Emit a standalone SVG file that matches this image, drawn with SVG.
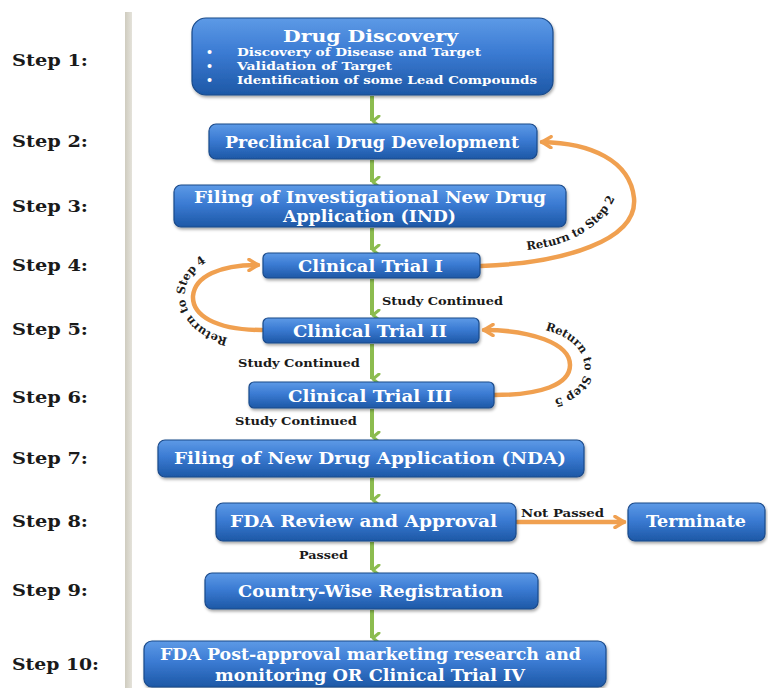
<svg xmlns="http://www.w3.org/2000/svg" width="768" height="688" viewBox="0 0 768 688">
<defs>
<linearGradient id="boxg" x1="0" y1="0" x2="0" y2="1">
<stop offset="0" stop-color="#5d9ae6"/>
<stop offset="0.45" stop-color="#3b7bd3"/>
<stop offset="1" stop-color="#1d58a6"/>
</linearGradient>
<linearGradient id="barg" x1="0" y1="0" x2="1" y2="0">
<stop offset="0" stop-color="#cfccbf"/>
<stop offset="1" stop-color="#e4e2da"/>
</linearGradient>
<filter id="sh" x="-10%" y="-20%" width="120%" height="150%">
<feDropShadow dx="1" dy="2" stdDeviation="1.5" flood-color="#000" flood-opacity="0.35"/>
</filter>
<marker id="gh" viewBox="0 0 12 10" refX="6" refY="9" markerWidth="12" markerHeight="10" markerUnits="userSpaceOnUse" orient="auto-start-reverse">
<path d="M1,2 L6,8 L11,2" fill="none" stroke="#8cbc4f" stroke-width="3" stroke-linecap="round" stroke-linejoin="round"/>
</marker>
<marker id="oh" viewBox="0 0 14 14" refX="12" refY="7" markerWidth="14" markerHeight="14" markerUnits="userSpaceOnUse" orient="auto">
<path d="M3,1.5 L12,7 L3,12.5" fill="none" stroke="#f0a050" stroke-width="3.5" stroke-linecap="round" stroke-linejoin="round"/>
</marker>
</defs>
<style>
.box{fill:url(#boxg);stroke:#1a4a8a;stroke-width:1.2;filter:url(#sh)}
.bt{font-family:"DejaVu Serif","Liberation Serif",serif;font-weight:bold;fill:#ffffff;font-size:16px}
.bs{font-family:"DejaVu Serif","Liberation Serif",serif;font-weight:bold;fill:#ffffff;font-size:11px}
.step{font-family:"DejaVu Serif","Liberation Serif",serif;font-weight:bold;fill:#1a1a1a;font-size:17px}
.lab{font-family:"DejaVu Serif","Liberation Serif",serif;font-weight:bold;fill:#1a1a1a;font-size:11px}
.pl{font-family:"DejaVu Serif","Liberation Serif",serif;font-weight:bold;fill:#1a1a1a;font-size:11.5px}
.g{stroke:#8cbc4f;stroke-width:4;fill:none}
.o{stroke:#f0a050;stroke-width:4.5;fill:none;stroke-linecap:round}
</style>
<rect x="0" y="0" width="768" height="688" fill="#ffffff"/>
<rect x="125" y="12" width="7" height="676" fill="url(#barg)"/>

<g id="steps">
<text class="step" x="12" y="66" textLength="76" lengthAdjust="spacingAndGlyphs">Step 1:</text>
<text class="step" x="12" y="147" textLength="76" lengthAdjust="spacingAndGlyphs">Step 2:</text>
<text class="step" x="12" y="212" textLength="76" lengthAdjust="spacingAndGlyphs">Step 3:</text>
<text class="step" x="12" y="271" textLength="76" lengthAdjust="spacingAndGlyphs">Step 4:</text>
<text class="step" x="12" y="335" textLength="76" lengthAdjust="spacingAndGlyphs">Step 5:</text>
<text class="step" x="12" y="403" textLength="76" lengthAdjust="spacingAndGlyphs">Step 6:</text>
<text class="step" x="12" y="464" textLength="76" lengthAdjust="spacingAndGlyphs">Step 7:</text>
<text class="step" x="12" y="527" textLength="76" lengthAdjust="spacingAndGlyphs">Step 8:</text>
<text class="step" x="12" y="596" textLength="76" lengthAdjust="spacingAndGlyphs">Step 9:</text>
<text class="step" x="12" y="670" textLength="87" lengthAdjust="spacingAndGlyphs">Step 10:</text>
</g>

<g id="connectors">
<line class="g" x1="372" y1="96" x2="372" y2="121" marker-end="url(#gh)"/>
<line class="g" x1="372" y1="160" x2="372" y2="182" marker-end="url(#gh)"/>
<line class="g" x1="372" y1="228" x2="372" y2="250" marker-end="url(#gh)"/>
<line class="g" x1="372" y1="279" x2="372" y2="315" marker-end="url(#gh)"/>
<line class="g" x1="372" y1="344" x2="372" y2="379" marker-end="url(#gh)"/>
<line class="g" x1="372" y1="409" x2="372" y2="437" marker-end="url(#gh)"/>
<line class="g" x1="372" y1="478" x2="372" y2="500" marker-end="url(#gh)"/>
<line class="g" x1="372" y1="542" x2="372" y2="570" marker-end="url(#gh)"/>
<line class="g" x1="372" y1="610" x2="372" y2="638" marker-end="url(#gh)"/>
<path class="o" d="M481,266 C565,263 638,240 634,198 C630,160 590,143 542,142" marker-end="url(#oh)"/>
<path class="o" d="M262,330 C215,330 192,315 193,296 C195,276 220,265 258,265" marker-end="url(#oh)"/>
<path class="o" d="M494,395 C540,395 570,385 570,365 C570,343 530,330 484,330" marker-end="url(#oh)"/>
<line class="o" x1="517" y1="522" x2="624" y2="522" marker-end="url(#oh)"/>
<path id="tp2" d="M527,250 C568,246 608,228 619,186" fill="none"/>
<path id="tp4" d="M228,338 C190,330 175,298 191,276 C202,261 218,254 240,252" fill="none"/>
<path id="tp5" d="M545,330 C574,337 590,356 583,378 C576,396 556,403 515,403" fill="none"/>
<text class="pl"><textPath href="#tp2">Return to Step 2</textPath></text>
<text class="pl"><textPath href="#tp4">Return to Step 4</textPath></text>
<text class="pl"><textPath href="#tp5">Return to Step 5</textPath></text>
<text class="lab" x="382" y="305" textLength="121" lengthAdjust="spacingAndGlyphs">Study Continued</text>
<text class="lab" x="238" y="367" textLength="122" lengthAdjust="spacingAndGlyphs">Study Continued</text>
<text class="lab" x="235" y="425" textLength="122" lengthAdjust="spacingAndGlyphs">Study Continued</text>
<text class="lab" x="521" y="517" textLength="83" lengthAdjust="spacingAndGlyphs">Not Passed</text>
<text class="lab" x="299" y="559" textLength="49" lengthAdjust="spacingAndGlyphs">Passed</text>
</g>

<g id="n1">
<rect class="box" x="192" y="18" width="361" height="77" rx="14"/>
<text class="bt" x="283" y="42" font-size="19" textLength="175" lengthAdjust="spacingAndGlyphs">Drug Discovery</text>
<text class="bs" x="206" y="56">•</text>
<text class="bs" x="206" y="70">•</text>
<text class="bs" x="206" y="84">•</text>
<text class="bs" x="237" y="56" textLength="244" lengthAdjust="spacingAndGlyphs">Discovery of Disease and Target</text>
<text class="bs" x="237" y="70" textLength="155" lengthAdjust="spacingAndGlyphs">Validation of Target</text>
<text class="bs" x="237" y="84" textLength="300" lengthAdjust="spacingAndGlyphs">Identification of some Lead Compounds</text>
</g>
<g id="n2">
<rect class="box" x="209" y="124" width="328" height="35" rx="7"/>
<text class="bt" x="225" y="148" textLength="294" lengthAdjust="spacingAndGlyphs">Preclinical Drug Development</text>
</g>
<g id="n3">
<rect class="box" x="174" y="185" width="392" height="42" rx="7"/>
<text class="bt" x="194" y="203" textLength="352" lengthAdjust="spacingAndGlyphs">Filing of Investigational New  Drug</text>
<text class="bt" x="283" y="222" textLength="173" lengthAdjust="spacingAndGlyphs">Application (IND)</text>
</g>
<g id="n4">
<rect class="box" x="263" y="253" width="217" height="25" rx="5"/>
<text class="bt" x="298" y="272" textLength="145" lengthAdjust="spacingAndGlyphs">Clinical Trial I</text>
</g>
<g id="n5">
<rect class="box" x="263" y="318" width="216" height="25" rx="5"/>
<text class="bt" x="293" y="337" textLength="154" lengthAdjust="spacingAndGlyphs">Clinical Trial II</text>
</g>
<g id="n6">
<rect class="box" x="249" y="382" width="245" height="26" rx="5"/>
<text class="bt" x="288" y="402" textLength="164" lengthAdjust="spacingAndGlyphs">Clinical Trial III</text>
</g>
<g id="n7">
<rect class="box" x="158" y="440" width="426" height="37" rx="7"/>
<text class="bt" x="174" y="464" textLength="392" lengthAdjust="spacingAndGlyphs">Filing of New  Drug Application (NDA)</text>
</g>
<g id="n8">
<rect class="box" x="216" y="503" width="300" height="38" rx="7"/>
<text class="bt" x="230" y="527" textLength="267" lengthAdjust="spacingAndGlyphs">FDA Review and Approval</text>
</g>
<g id="n9">
<rect class="box" x="628" y="503" width="137" height="38" rx="7"/>
<text class="bt" x="646" y="527" textLength="100" lengthAdjust="spacingAndGlyphs">Terminate</text>
</g>
<g id="n10">
<rect class="box" x="205" y="573" width="333" height="36" rx="7"/>
<text class="bt" x="238" y="597" textLength="265" lengthAdjust="spacingAndGlyphs">Country-Wise Registration</text>
</g>
<g id="n11">
<rect class="box" x="144" y="641" width="462" height="46" rx="8"/>
<text class="bt" x="160" y="660" textLength="421" lengthAdjust="spacingAndGlyphs">FDA Post-approval marketing research and</text>
<text class="bt" x="215" y="681" textLength="310" lengthAdjust="spacingAndGlyphs">monitoring OR Clinical Trial IV</text>
</g>
</svg>
